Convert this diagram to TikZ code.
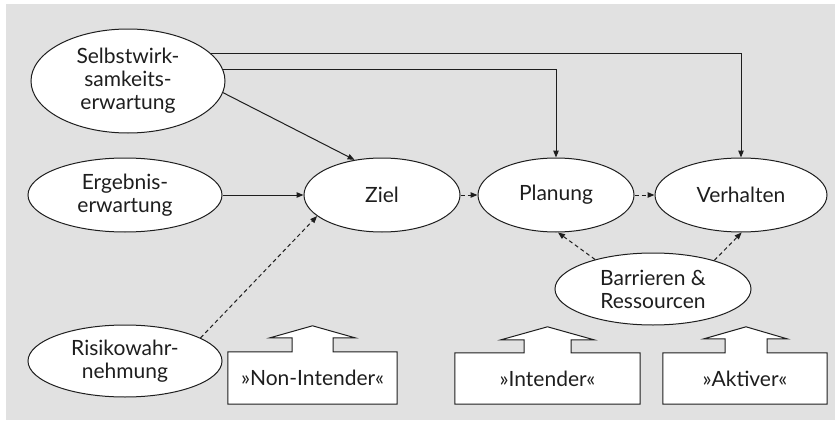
\documentclass[tikz,border=0pt]{standalone}
\usepackage{fontspec}
\setmainfont{Lato}
\usetikzlibrary{shapes.geometric,arrows.meta,calc}
\definecolor{bggray}{HTML}{E1E1E1}
\definecolor{ink}{HTML}{1E1E1E}
\tikzset{
  oval/.style={ellipse, draw=ink, fill=white, line width=1pt, inner sep=0pt,
    align=center, font=\fontsize{21}{23}\selectfont, text=ink},
  stagebox/.style={rectangle, inner sep=0pt, font=\fontsize{21}{23}\selectfont, text=ink},
  outline/.style={draw=ink, fill=white, line width=1pt, line join=miter},
  link/.style={draw=ink, line width=1pt, -{Triangle[length=7pt,width=5.5pt]}},
  weaklink/.style={link, dash pattern=on 4pt off 3pt},
}
\begin{document}
\begin{tikzpicture}[x=1pt, y=-1pt]
  \useasboundingbox (0,0) rectangle (839,423);
  \fill[bggray] (6,4) rectangle (835,420);

  % determinants
  \node[oval, minimum width=194pt, minimum height=104pt] (selbst) at (128,81)
    {Selbstwirk-\\samkeits-\\erwartung};
  \node[oval, minimum width=194pt, minimum height=74pt] (ergeb) at (125,195)
    {Ergebnis-\\erwartung};
  \node[oval, minimum width=194pt, minimum height=72pt] (risiko) at (125,361)
    {Risikowahr-\\nehmung};

  % process chain
  \node[oval, minimum width=156pt, minimum height=74pt] (ziel) at (382,195) {Ziel};
  \node[oval, minimum width=156pt, minimum height=74pt] (plan) at (556,195) {Planung};
  \node[oval, minimum width=172pt, minimum height=74pt] (verh) at (741,195) {Verhalten};
  \node[oval, minimum width=196pt, minimum height=72pt] (barr) at (653,289)
    {Barrieren \&\\Ressourcen};

  % stage boxes with upward block arrows
  \node[stagebox, minimum width=169pt, minimum height=52pt] (non) at (312.5,378) {};
  \filldraw[outline] (non.south west) -- (non.north west)
    -- ($(non.north)+(-20.5,0)$) -- ($(non.north)+(-20.5,-14)$) -- ($(non.north)+(-42.5,-14)$)
    -- ($(non.north)+(0,-26)$)
    -- ($(non.north)+(42.5,-14)$) -- ($(non.north)+(20.5,-14)$) -- ($(non.north)+(20.5,0)$)
    -- (non.north east) -- (non.south east) -- cycle;
  \node[stagebox] at (non) {»Non-Intender«};

  \node[stagebox, minimum width=185pt, minimum height=51pt] (int) at (547.5,378.5) {};
  \filldraw[outline] (int.south west) -- (int.north west)
    -- ($(int.north)+(-23.5,0)$) -- ($(int.north)+(-23.5,-13)$) -- ($(int.north)+(-46.5,-13)$)
    -- ($(int.north)+(0,-26)$)
    -- ($(int.north)+(46.5,-13)$) -- ($(int.north)+(23.5,-13)$) -- ($(int.north)+(23.5,0)$)
    -- (int.north east) -- (int.south east) -- cycle;
  \node[stagebox] at (int) {»Intender«};

  \node[stagebox, minimum width=164pt, minimum height=51pt] (akt) at (745,378.5) {};
  \filldraw[outline] (akt.south west) -- (akt.north west)
    -- ($(akt.north)+(-20,0)$) -- ($(akt.north)+(-20,-14)$) -- ($(akt.north)+(-41,-14)$)
    -- ($(akt.north)+(1,-26)$)
    -- ($(akt.north)+(42,-14)$) -- ($(akt.north)+(22,-14)$) -- ($(akt.north)+(22,0)$)
    -- (akt.north east) -- (akt.south east) -- cycle;
  \node[stagebox] at (akt) {»Aktiver«};

  % solid influences
  \draw[link] (selbst.18.6) -- (selbst.18.6 -| verh.north) -- (verh.north);
  \draw[link] (selbst.7.9) -- (selbst.7.9 -| plan.north) -- (plan.north);
  \draw[link] (selbst.-7) -- (ziel.128);
  \draw[link] (ergeb.east) -- (ziel.west);

  % dashed influences
  \draw[weaklink] (risiko.17) -- (ziel.198);
  \draw[weaklink] (ziel.east) -- (plan.west);
  \draw[weaklink] (plan.east) -- (verh.west);
  \draw[weaklink] (barr.153) -- (plan.273);
  \draw[weaklink] (barr.25) -- (verh.271);
\end{tikzpicture}
\end{document}
